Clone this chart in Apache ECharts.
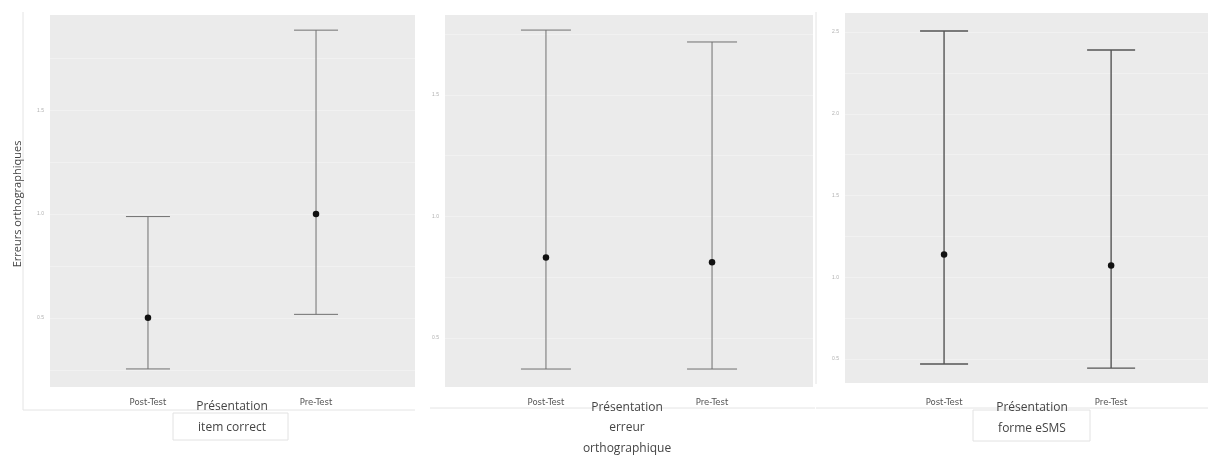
<!DOCTYPE html>
<html>
<head>
<meta charset="utf-8">
<script src="https://cdn.jsdelivr.net/npm/echarts@6/dist/echarts.min.js"></script>
<style>html,body{margin:0;padding:0;background:#fff;}#c{width:1208px;height:457px;}</style>
</head>
<body>
<div id="c"></div>
<script>
const categories = ['Post-Test', 'Pre-Test'];
const panelTitles = ['Présentation\nitem correct', 'Présentation\nerreur\northographique', 'Présentation\nforme eSMS'];
const yTitle = 'Erreurs orthographiques';

const meanItem = [0.50, 1.00];
const lowItem = [0.254, 0.517];
const highItem = [0.988, 1.886];

const meanErreur = [0.831, 0.811];
const lowErreur = [0.372, 0.372];
const highErreur = [1.767, 1.718];

const meanForme = [1.140, 1.073];
const lowForme = [0.470, 0.445];
const highForme = [2.506, 2.390];

const ticksItem = [0.5, 1.0, 1.5];
const ticksErreur = [0.5, 1.0, 1.5];
const ticksForme = [0.5, 1.0, 1.5, 2.0, 2.5];

function minorTicks(t) {
  const out = [];
  const step = t[1] - t[0];
  out.push(t[0] - step / 2);
  t.forEach(v => { out.push(v); out.push(v + step / 2); });
  return out;
}

const panels = [
  { mean: meanItem, low: lowItem, high: highItem, ticks: ticksItem, ymin: 0.167, ymax: 1.959, xmin: -0.583, xmax: 1.589,
    grid: { left: 50, top: 15, width: 365, height: 372 }, cap: 22, color: '#707070', lw: 1, lm: 11 },
  { mean: meanErreur, low: lowErreur, high: highErreur, ticks: ticksErreur, ymin: 0.298, ymax: 1.829, xmin: -0.608, xmax: 1.608,
    grid: { left: 445, top: 15, width: 368, height: 372 }, cap: 25, color: '#707070', lw: 1, lm: 11 },
  { mean: meanForme, low: lowForme, high: highForme, ticks: ticksForme, ymin: 0.354, ymax: 2.616, xmin: -0.593, xmax: 1.580,
    grid: { left: 845, top: 13, width: 363, height: 370 }, cap: 24, color: '#555', lw: 1.4, lm: 15 }
];

const grids = [], xAxes = [], yAxes = [], series = [];
panels.forEach((p, i) => {
  grids.push(Object.assign({ show: true, backgroundColor: '#ebebeb', borderWidth: 0 }, p.grid));
  xAxes.push({
    type: 'value', gridIndex: i, min: p.xmin, max: p.xmax,
    axisLine: { show: false }, axisTick: { show: false, customValues: [0, 1] },
    splitLine: { show: false },
    axisLabel: { customValues: [0, 1], formatter: v => categories[Math.round(v)] || '', color: '#555', fontSize: 8.5,
      fontFamily: 'DejaVu Sans', margin: p.lm }
  });
  yAxes.push({
    type: 'value', gridIndex: i, min: p.ymin, max: p.ymax,
    axisLine: { show: false },
    axisTick: { show: false, customValues: minorTicks(p.ticks) },
    splitLine: { show: true, lineStyle: { color: '#f1f1f1', width: 1 } },
    axisLabel: { customValues: p.ticks, formatter: v => v.toFixed(1), color: '#b0b0b0', fontSize: 5, margin: 6 }
  });
  series.push({
    type: 'custom', xAxisIndex: i, yAxisIndex: i,
    data: categories.map((c, k) => [k, p.low[k], p.high[k]]),
    renderItem: (params, api) => {
      const x = api.value(0);
      const lo = api.coord([x, api.value(1)]);
      const hi = api.coord([x, api.value(2)]);
      const st = { stroke: p.color, lineWidth: p.lw };
      return { type: 'group', children: [
        { type: 'line', shape: { x1: lo[0], y1: lo[1], x2: hi[0], y2: hi[1] }, style: st },
        { type: 'line', shape: { x1: hi[0] - p.cap, y1: hi[1], x2: hi[0] + p.cap, y2: hi[1] }, style: st },
        { type: 'line', shape: { x1: lo[0] - p.cap, y1: lo[1], x2: lo[0] + p.cap, y2: lo[1] }, style: st }
      ]};
    },
    silent: true, z: 2
  });
  series.push({
    type: 'scatter', xAxisIndex: i, yAxisIndex: i,
    data: categories.map((c, k) => [k, p.mean[k]]),
    symbolSize: 6.5, itemStyle: { color: '#111', opacity: 1 }, silent: true, z: 3
  });
});

const frame = '#e4e4e4';
const graphic = [
  { type: 'line', shape: { x1: 23, y1: 12, x2: 23, y2: 410 }, style: { stroke: frame, lineWidth: 1 } },
  { type: 'line', shape: { x1: 23, y1: 410, x2: 415, y2: 410 }, style: { stroke: frame, lineWidth: 1 } },
  { type: 'line', shape: { x1: 430, y1: 408, x2: 815, y2: 408 }, style: { stroke: frame, lineWidth: 1 } },
  { type: 'line', shape: { x1: 816, y1: 12, x2: 816, y2: 384 }, style: { stroke: frame, lineWidth: 1 } },
  { type: 'line', shape: { x1: 816, y1: 408, x2: 1208, y2: 408 }, style: { stroke: frame, lineWidth: 1 } },
  { type: 'rect', shape: { x: 173, y: 413, width: 115, height: 27 }, style: { fill: 'none', stroke: '#e2e2e2', lineWidth: 1 } },
  { type: 'rect', shape: { x: 973, y: 410, width: 117, height: 31 }, style: { fill: 'none', stroke: '#e2e2e2', lineWidth: 1 } },
  { type: 'text', x: 18, y: 204, rotation: Math.PI / 2,
    style: { text: yTitle, fill: '#444', font: '11px "Open Sans"', textAlign: 'center', textVerticalAlign: 'middle' } },
  { type: 'text', x: 232, y: 396, style: { text: panelTitles[0], fill: '#444', font: '12px "Open Sans"', lineHeight: 21, textAlign: 'center' } },
  { type: 'text', x: 627, y: 397, style: { text: panelTitles[1], fill: '#444', font: '12px "Open Sans"', lineHeight: 20.5, textAlign: 'center' } },
  { type: 'text', x: 1032, y: 397, style: { text: panelTitles[2], fill: '#444', font: '12px "Open Sans"', lineHeight: 21, textAlign: 'center' } }
];

const chart = echarts.init(document.getElementById('c'), null, { renderer: 'canvas' });
chart.setOption({
  animation: false,
  backgroundColor: '#fff',
  grid: grids, xAxis: xAxes, yAxis: yAxes, series: series, graphic: graphic
});
</script>
</body>
</html>
